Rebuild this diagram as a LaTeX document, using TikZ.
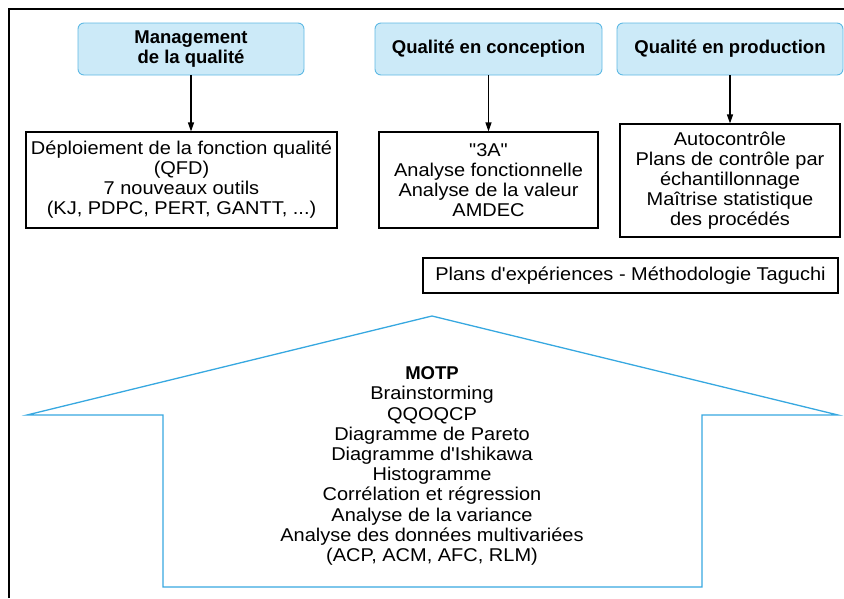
\documentclass[tikz,border=0pt]{standalone}
\usepackage{fontspec}
\newfontfamily\textefont[FakeStretch=1.08]{Liberation Sans}
\newfontfamily\titrefont{Liberation Sans}
\usetikzlibrary{arrows.meta}
\definecolor{bleuclair}{RGB}{204,234,248}
\definecolor{bleutrait}{RGB}{95,185,228}
\definecolor{bleumaison}{RGB}{55,168,224}
\tikzset{
  titre/.style={rectangle, rounded corners=6pt, draw=bleutrait, fill=bleuclair,
    line width=0.9pt, align=center, inner sep=0pt,
    font=\titrefont\bfseries\fontsize{18.5}{20}\selectfont},
  boite/.style={rectangle, draw, line width=1.1pt, align=center, inner sep=0pt,
    font=\textefont\fontsize{18.5}{20}\selectfont},
  fleche/.style={-{Triangle[length=9pt,width=6pt]}, line width=1.1pt}
}

\begin{document}
\begin{tikzpicture}[x=1pt,y=-1pt]
  \useasboundingbox (0,0) rectangle (844,598);

  % Cadre
  % =====
  \draw[line width=2pt] (8.5,598) -- (8.5,9) -- (844,9);

  % Titres
  % ======
  \node[titre, minimum width=226, minimum height=52] (mgmt) at (191,49)
  {Management\\de la qualité};
  \node[titre, minimum width=227, minimum height=52] (concep) at (488.5,49)
  {Qualité en conception};
  \node[titre, minimum width=226, minimum height=52] (prod) at (730,49)
  {Qualité en production};

  % Outils
  % ======
  \node[boite, minimum width=311, minimum height=96] (qfd) at (181.5,180)
  {Déploiement de la fonction qualité\\(QFD)\\7 nouveaux outils\\(KJ, PDPC, PERT, GANTT, ...)};
  \node[boite, minimum width=219, minimum height=96] (troisa) at (488.5,180)
  {"3A"\\Analyse fonctionnelle\\Analyse de la valeur\\AMDEC};
  \node[boite, minimum width=220, minimum height=113] (autoc) at (730,180.5)
  {Autocontrôle\\Plans de contrôle par\\échantillonnage\\Maîtrise statistique\\des procédés};

  \node[boite, minimum width=415, minimum height=35] (taguchi) at (630.5,275.5)
  {Plans d'expériences - Méthodologie Taguchi};

  % Fleches
  % =======
  \draw[fleche] (mgmt.south) -- (mgmt.south |- qfd.north);
  \draw[fleche] (concep.south) -- (troisa.north);
  \draw[fleche] (prod.south) -- (autoc.north);

  % Maison
  % ======
  \draw[bleumaison, line width=1.3pt] (27,415) -- (432,316) -- (838,415)
  -- (702,415) -- (702,587) -- (163,587) -- (163,415) -- cycle;

  \node[align=center, inner sep=0pt, font=\textefont\fontsize{18.5}{20.2}\selectfont] (motp) at (432,466)
  {{\titrefont\bfseries MOTP}\\Brainstorming\\QQOQCP\\Diagramme de Pareto\\Diagramme d'Ishikawa\\Histogramme\\Corrélation et régression\\Analyse de la variance\\Analyse des données multivariées\\(ACP, ACM, AFC, RLM)};

\end{tikzpicture}
\end{document}
